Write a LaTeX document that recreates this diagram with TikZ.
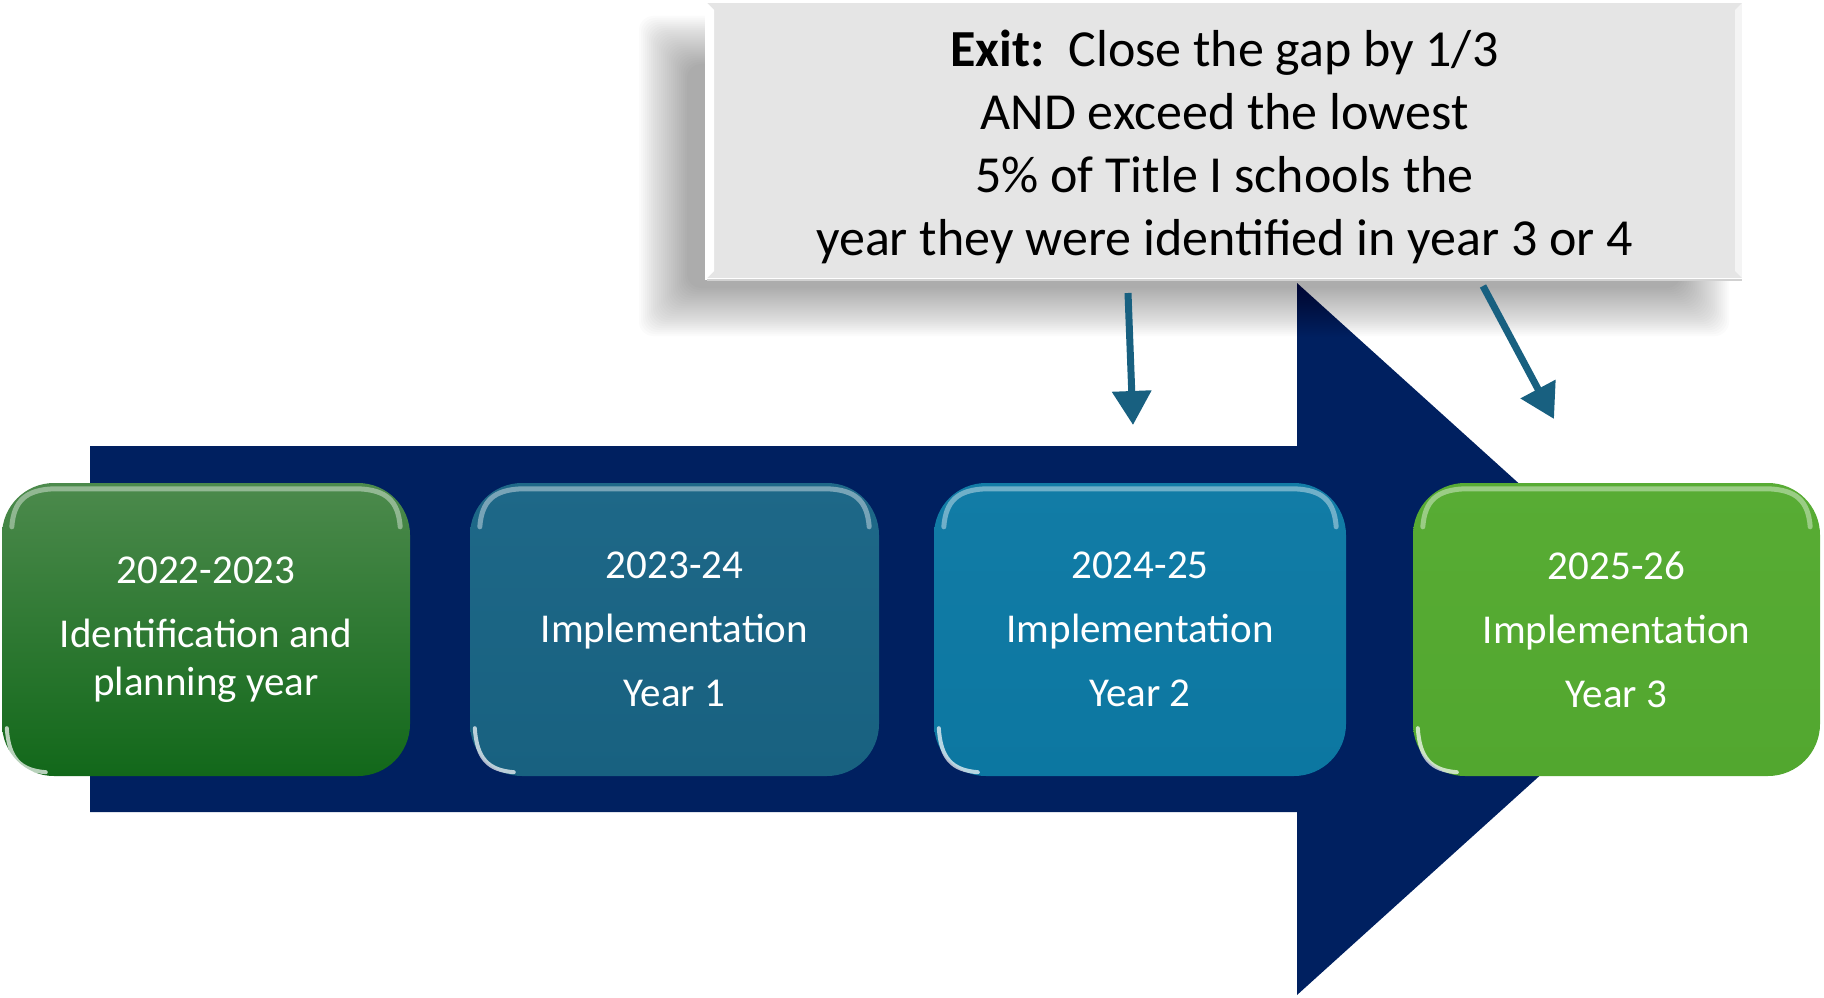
\documentclass[tikz,border=0pt]{standalone}
\usepackage{fontspec}
\setmainfont{Carlito}
\usetikzlibrary{arrows.meta,calc}
\definecolor{navy}{RGB}{0,32,96}
\definecolor{gTop}{RGB}{76,138,76}
\definecolor{gBot}{RGB}{18,104,26}
\definecolor{bDark}{RGB}{24,97,128}
\definecolor{bDarkT}{RGB}{30,104,136}
\definecolor{bMid}{RGB}{12,119,161}
\definecolor{bMidT}{RGB}{18,124,166}
\definecolor{lGreen}{RGB}{82,167,47}
\definecolor{lGreenT}{RGB}{88,172,52}
\definecolor{exitgray}{RGB}{229,229,229}
\definecolor{arrowc}{RGB}{24,96,128}
\tikzset{
  yearbox/.style={rounded corners=52pt, minimum height=293pt, inner sep=0pt,
    text=white, align=center, font=\fontsize{41}{64}\selectfont},
  exitbox/.style={fill=exitgray, draw=white, line width=2pt, minimum width=1037pt,
    minimum height=277pt, inner sep=0pt},
  exittextstyle/.style={align=center, inner sep=0pt, font=\fontsize{52}{63}\selectfont},
  pointer/.style={draw=arrowc, line width=7pt, -{Triangle[width=38pt,length=34pt]}},
  gloss/.style={draw=white, opacity=0.4, line width=5pt, line cap=round},
}
\newcommand{\glossy}[1]{%
  \draw[gloss] ($(#1.north west)+(10,44)$) .. controls ($(#1.north west)+(12,18)$) and ($(#1.north west)+(24,7)$) .. ($(#1.north west)+(52,6)$)
     -- ($(#1.north east)+(-52,6)$) .. controls ($(#1.north east)+(-24,7)$) and ($(#1.north east)+(-12,18)$) .. ($(#1.north east)+(-10,44)$);
  \draw[gloss, opacity=0.7, line width=4pt] ($(#1.south west)+(5,-48)$) .. controls ($(#1.south west)+(7,-18)$) and ($(#1.south west)+(18,-6)$) .. ($(#1.south west)+(44,-4)$);
}
\begin{document}
\begin{tikzpicture}[x=1pt,y=-1pt]
\useasboundingbox (0,0) rectangle (1824,998);
% big arrow
\fill[navy] (90,446) -- (1297,446) -- (1297,283) -- (1691,639) -- (1297,995) -- (1297,812) -- (90,812) -- cycle;
% boxes
\node[yearbox, minimum width=408pt, top color=gTop, bottom color=gBot,
  font=\fontsize{41}{48}\selectfont] (b1) at (206,629.5)
  {2022-2023\\[16pt]Identification and\\planning year};
\node[yearbox, minimum width=409pt, top color=bDarkT, bottom color=bDark] (b2) at (674.5,629.5)
  {2023-24\\Implementation\\Year 1};
\node[yearbox, minimum width=412pt, top color=bMidT, bottom color=bMid] (b3) at (1140,629.5)
  {2024-25\\Implementation\\Year 2};
\node[yearbox, minimum width=407pt, top color=lGreenT, bottom color=lGreen] (b4) at (1616.5,629.5)
  {2025-26\\Implementation\\Year 3};
\glossy{b1}\glossy{b2}\glossy{b3}\glossy{b4}
% soft shadow of exit box
\foreach \i in {0,...,24} {
  \fill[black, opacity=0.017, rounded corners=14pt]
    ({663-24+2*\i},{40-24+2*\i}) rectangle ({1705+24-2*\i},{312+24-2*\i});
}
% exit box
\node[exitbox] (exit) at (1224.5,140.5) {};
\fill[white] (exit.north west) -- ++(9,9) -- ($(exit.south west)+(9,-9)$) -- (exit.south west) -- cycle;
\fill[white, opacity=0.6] (exit.north east) -- ++(-9,9) -- ($(exit.south east)+(-9,-9)$) -- (exit.south east) -- cycle;
\draw[black!18, line width=1.5pt] ($(exit.south west)+(2,0)$) -- ($(exit.south east)+(-2,0)$);
\node[exittextstyle] (exittext) at ($(exit.center)+(0,6)$)
  {\textbf{Exit:}\ \ Close the gap by 1/3\\AND exceed the lowest\\5\% of Title I schools the\\year they were identified in year 3 or 4};
% pointers
\coordinate (p1s) at (1128,293);
\coordinate (p1e) at (1133,425);
\coordinate (p2s) at (1483,286);
\coordinate (p2e) at (1554,419);
\draw[pointer] (p1s) -- (p1e);
\draw[pointer] (p2s) -- (p2e);
\end{tikzpicture}
\end{document}
